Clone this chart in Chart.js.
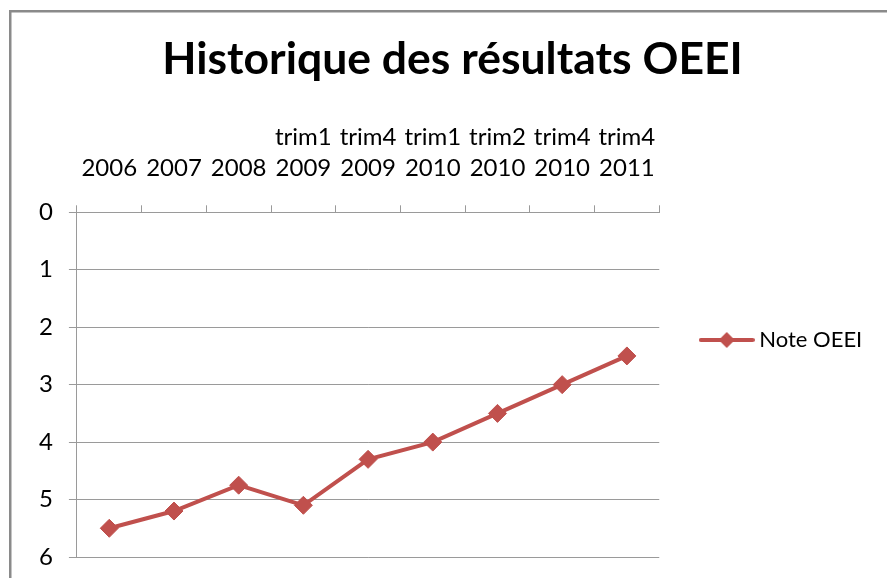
<!DOCTYPE html>
<html>
<head>
<meta charset="utf-8">
<script src="https://cdn.jsdelivr.net/npm/chart.js@4"></script>
<style>
  html, body { margin: 0; padding: 0; background: #fff; }
  #wrap { width: 887px; height: 578px; position: relative; }
</style>
</head>
<body>
<div id="wrap"><canvas id="c" width="887" height="578"></canvas></div>
<script>
const chartTitle = 'Historique des résultats OEEI';
const seriesName = 'Note OEEI';
const categories = [
  ['2006'], ['2007'], ['2008'],
  ['trim1', '2009'], ['trim4', '2009'],
  ['trim1', '2010'], ['trim2', '2010'], ['trim4', '2010'],
  ['trim4', '2011']
];
const noteOEEI = [5.5, 5.2, 4.75, 5.1, 4.3, 4.0, 3.5, 3.0, 2.5];
const yMin = 0, yMax = 6, yStep = 1;

const RED = '#C0504D';
const GRID = '#9a9a9a';
const FONT = 'Lato, "Open Sans", sans-serif';

// legend symbol: line with diamond marker
const sym = document.createElement('canvas');
sym.width = 56; sym.height = 18;
(function () {
  const g = sym.getContext('2d');
  g.strokeStyle = RED; g.lineWidth = 4; g.lineCap = 'round';
  g.beginPath(); g.moveTo(2, 9); g.lineTo(54, 9); g.stroke();
  g.fillStyle = RED;
  g.beginPath(); g.moveTo(28, 1); g.lineTo(36, 9); g.lineTo(28, 17); g.lineTo(20, 9); g.closePath(); g.fill();
})();

const frame = {
  id: 'frame',
  beforeDraw(chart) {
    const ctx = chart.ctx;
    ctx.save();
    ctx.fillStyle = '#fff';
    ctx.fillRect(0, 0, chart.width, chart.height);
    ctx.strokeStyle = '#8a8a8a';
    ctx.lineWidth = 2.5;
    ctx.strokeRect(10.25, 11.25, 1000, 1000);
    ctx.restore();
  }
};

new Chart(document.getElementById('c'), {
  type: 'line',
  data: {
    labels: categories,
    datasets: [{
      label: seriesName,
      data: noteOEEI,
      borderColor: RED,
      backgroundColor: RED,
      borderWidth: 4,
      pointStyle: 'rectRot',
      pointRadius: 9,
      pointHoverRadius: 9,
      pointBorderWidth: 1,
      pointBackgroundColor: RED,
      pointBorderColor: RED,
      tension: 0,
      fill: false
    }]
  },
  options: {
    responsive: false,
    animation: false,
    devicePixelRatio: 1,
    layout: { padding: { left: 39, right: 21, top: 0, bottom: 21 } },
    plugins: {
      title: {
        display: true,
        text: chartTitle,
        color: '#000',
        font: { family: FONT, size: 44.5, weight: 'bold', lineHeight: 1.2 },
        padding: { top: 33.3, bottom: 31.2 }
      },
      legend: {
        display: true,
        position: 'right',
        align: 'center',
        title: { display: true, text: '', font: { size: 10, lineHeight: 1 }, padding: { top: 113, bottom: 0 } },
        labels: {
          usePointStyle: true,
          pointStyleWidth: 43,
          padding: 46,
          color: '#000',
          font: { family: FONT, size: 22 },
          generateLabels(chart) {
            const items = Chart.defaults.plugins.legend.labels.generateLabels(chart);
            items.forEach(it => { it.pointStyle = sym; it.lineWidth = 0; });
            return items;
          }
        }
      },
      tooltip: { enabled: false }
    },
    scales: {
      x: {
        position: 'top',
        offset: true,
        grid: {
          display: true, drawOnChartArea: false, drawTicks: true, tickLength: 24, offset: true,
          color: GRID, lineWidth: 1, tickBorderDash: [7, 17], tickBorderDashOffset: 7
        },
        border: { display: true, color: GRID, width: 1 },
        ticks: { color: '#000', padding: 4, maxRotation: 0, autoSkip: false, font: { family: FONT, size: 24, lineHeight: 1.3 } }
      },
      y: {
        position: 'left',
        reverse: true,
        min: yMin,
        max: yMax,
        grid: {
          display: true, drawTicks: true, tickLength: 24, color: GRID, lineWidth: 1,
          tickBorderDash: [8, 16], tickBorderDashOffset: 8
        },
        border: { display: true, color: GRID, width: 1 },
        ticks: { stepSize: yStep, color: '#000', padding: 0, font: { family: FONT, size: 24, lineHeight: 0.25 } }
      }
    }
  },
  plugins: [frame]
});
</script>
</body>
</html>
